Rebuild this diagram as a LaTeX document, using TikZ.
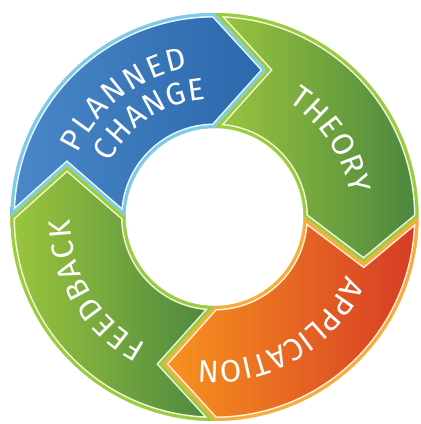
\documentclass[tikz,border=0pt]{standalone}
\usepackage{fontspec}
\setmainfont{Fira Sans}
\usetikzlibrary{decorations.text}
\definecolor{bluebd}{HTML}{7DCBE5}
\definecolor{bluel}{HTML}{4B88C8}
\definecolor{bluer}{HTML}{2A67AB}
\definecolor{greenbd}{HTML}{9CCB3B}
\definecolor{greenl}{HTML}{9CC63D}
\definecolor{greenr}{HTML}{4B863F}
\definecolor{orangebd}{HTML}{F8AD3A}
\definecolor{orangel}{HTML}{F7941E}
\definecolor{oranger}{HTML}{D63A26}
\newcommand\ringseg[4]{(#1:204pt) arc[start angle=#1, end angle=#2, radius=204pt] -- (#3:156pt) -- (#2:89pt) arc[start angle=#2, end angle=#1, radius=89pt] -- (#4:156pt) -- cycle}
\newcommand\ringsegment[7]{%
  \begin{scope}
    \clip \ringseg{#1}{#2}{#3}{#4};
    \shade[left color=#6, right color=#7] \ringseg{#1}{#2}{#3}{#4};
    \draw[white!85!#5, line width=9pt, line join=miter] \ringseg{#1}{#2}{#3}{#4};
    \draw[#5, line width=6pt, line join=miter] \ringseg{#1}{#2}{#3}{#4};
  \end{scope}}
\newcommand\ringfont{\fontsize{31pt}{33pt}\selectfont}
\tikzset{ringtext/.style={decorate, decoration={text along path, text={|\ringfont|#1}, text align={fit to path}, text color=white}}}
\begin{document}
\begin{tikzpicture}
\useasboundingbox (-214.5pt,-207pt) rectangle (206.5pt,217pt);
% segments: tail, head, tip, notch, border, left, right
\ringsegment{180}{90}{70.5}{161}{bluebd}{bluel}{bluer}
\ringsegment{90}{0}{-17}{70.5}{greenbd}{greenl}{greenr}
\ringsegment{0}{-90}{-109.5}{-17}{orangebd}{orangel}{oranger}
\ringsegment{-90}{-180}{-199}{-109.5}{greenbd}{greenl}{greenr}
% labels
\path[ringtext={PLANNED}] (155:151pt) arc[start angle=155, end angle=100, radius=151pt];
\path[ringtext={CHANGE}] (152.5:118pt) arc[start angle=152.5, end angle=94, radius=118pt];
\path[ringtext={THEORY}] (57.5:137pt) arc[start angle=57.5, end angle=9.5, radius=137pt];
\path[ringtext={APPLICATION}] (-24:144pt) arc[start angle=-24, end angle=-96.5, radius=144pt];
\path[ringtext={FEEDBACK}] (242:144.5pt) arc[start angle=242, end angle=181, radius=144.5pt];
\end{tikzpicture}
\end{document}
